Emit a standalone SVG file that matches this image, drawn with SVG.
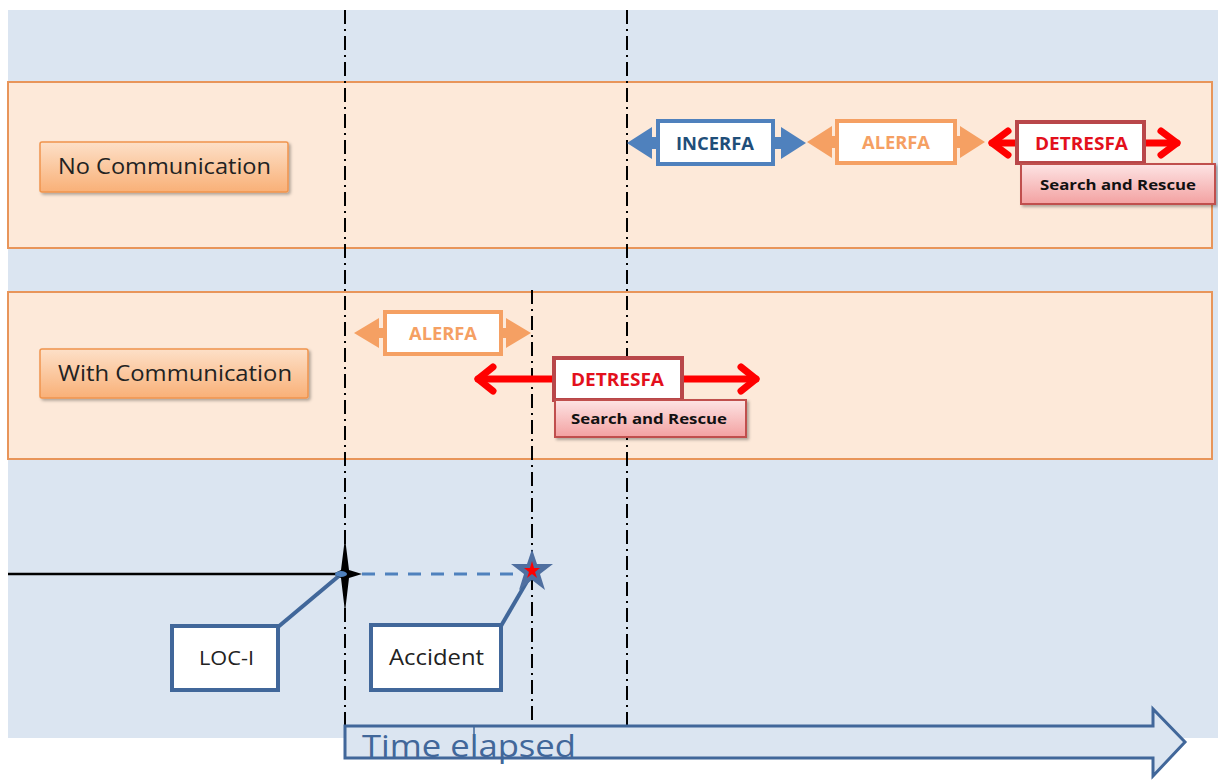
<svg xmlns="http://www.w3.org/2000/svg" width="1218" height="783" viewBox="0 0 1218 783">
<defs>
<linearGradient id="gOr" x1="0" y1="0" x2="0" y2="1"><stop offset="0" stop-color="#fde0c8"/><stop offset="1" stop-color="#f9b077"/></linearGradient>
<linearGradient id="gPk" x1="0" y1="0" x2="0" y2="1"><stop offset="0" stop-color="#fde4e4"/><stop offset="1" stop-color="#f3a1a1"/></linearGradient>
<filter id="sh" x="-10%" y="-10%" width="130%" height="140%"><feDropShadow dx="2" dy="2" stdDeviation="1.5" flood-color="#000" flood-opacity="0.3"/></filter>
<style>
.band{fill:#fde9d9;stroke:#e8955a;stroke-width:2}
.vd{stroke:#000;stroke-width:2;stroke-dasharray:14 5 2 5;fill:none}
.lbl{fill:url(#gOr);stroke:#f0944d;stroke-width:1.5;filter:url(#sh)}
.sar{fill:url(#gPk);stroke:#c0504d;stroke-width:2;filter:url(#sh)}
.t{font-family:"Open Sans","Liberation Sans",sans-serif}
.b{font-weight:bold}
.callout{fill:#fff;stroke:#41679a;stroke-width:4}
</style>
</defs>
<rect x="0" y="0" width="1218" height="783" fill="#fff"/>
<rect x="8" y="10" width="1210" height="728" fill="#dbe5f1"/>
<rect class="band" x="8" y="82" width="1204" height="166"/>
<rect class="band" x="8" y="292" width="1204" height="167"/>

<g id="guides">
<line class="vd" x1="345" y1="10" x2="345" y2="726"/>
<line class="vd" x1="627" y1="10" x2="627" y2="726"/>
<line class="vd" x1="532" y1="290" x2="532" y2="724"/>
</g>

<g id="no-comm"><rect class="lbl" x="40" y="142" width="248" height="50" rx="2"/><text class="t" x="58" y="174" font-size="21" fill="#222" textLength="213" lengthAdjust="spacingAndGlyphs">No Communication</text></g>
<g id="with-comm"><rect class="lbl" x="40" y="349" width="268" height="49" rx="2"/><text class="t" x="58" y="381" font-size="21" fill="#222" textLength="234" lengthAdjust="spacingAndGlyphs">With Communication</text></g>

<g id="connectors">
<polygon points="627,143 652,127 652,137 781,137 781,127 806,143 781,159 781,149 652,149 652,159" fill="#4f81bd"/>
<polygon points="807,142 832,126 832,136 960,136 960,126 985,142 960,158 960,148 832,148 832,158" fill="#f5a063"/>
<g stroke="#ff0000" stroke-width="7" fill="none" stroke-linecap="round" stroke-linejoin="round">
<line x1="992" y1="143" x2="1177" y2="143"/>
<polyline points="1008,131 992,143 1008,155"/>
<polyline points="1161,131 1177,143 1161,155"/>
<line x1="478" y1="379" x2="756" y2="379"/>
<polyline points="493,367 478,379 493,391"/>
<polyline points="741,367 756,379 741,391"/>
</g>
<polygon points="354,333 379,318 379,328 506,328 506,318 531,333 506,348 506,338 379,338 379,348" fill="#f5a063"/>
<line x1="8" y1="574" x2="340" y2="574" stroke="#000" stroke-width="2.5"/>
<line x1="362" y1="574" x2="520" y2="574" stroke="#4f81bd" stroke-width="3" stroke-dasharray="13 10"/>
<line x1="278" y1="627" x2="340" y2="575" stroke="#41679a" stroke-width="4"/>
<line x1="501" y1="626" x2="529" y2="578" stroke="#41679a" stroke-width="4"/>
</g>

<g id="incerfa"><rect x="658" y="121" width="115" height="43" fill="#fff" stroke="#4f81bd" stroke-width="4"/><text class="t b" x="676" y="150" font-size="18" fill="#1f4e79" textLength="78" lengthAdjust="spacingAndGlyphs">INCERFA</text></g>
<g id="alerfa-top"><rect x="837" y="121" width="118" height="42" fill="#fff" stroke="#f5a063" stroke-width="4"/><text class="t b" x="862" y="149" font-size="18" fill="#f5a063" textLength="68" lengthAdjust="spacingAndGlyphs">ALERFA</text></g>
<g id="detresfa-top"><rect x="1017" y="122" width="127" height="41" fill="#fff" stroke="#b9474a" stroke-width="4"/><text class="t b" x="1035" y="150" font-size="18" fill="#e3101c" textLength="93" lengthAdjust="spacingAndGlyphs">DETRESFA</text></g>
<g id="sar-top"><rect class="sar" x="1021" y="164" width="194" height="40"/><text class="t b" x="1040" y="190" font-size="15" fill="#111" textLength="156" lengthAdjust="spacingAndGlyphs">Search and Rescue</text></g>

<g id="alerfa-bottom"><rect x="385" y="312" width="116" height="42" fill="#fff" stroke="#f5a063" stroke-width="4"/><text class="t b" x="409" y="340" font-size="18" fill="#f5a063" textLength="68" lengthAdjust="spacingAndGlyphs">ALERFA</text></g>
<g id="detresfa-bottom"><rect x="554" y="358" width="128" height="42" fill="#fff" stroke="#b9474a" stroke-width="4"/><text class="t b" x="571" y="386" font-size="18" fill="#e3101c" textLength="93" lengthAdjust="spacingAndGlyphs">DETRESFA</text></g>
<g id="sar-bottom"><rect class="sar" x="555" y="400" width="191" height="37"/><text class="t b" x="571" y="424" font-size="15" fill="#111" textLength="156" lengthAdjust="spacingAndGlyphs">Search and Rescue</text></g>

<g id="loc-i">
<polygon points="345,538 349,570 362,574 349,578 345,612 341,578 333,574 341,570" fill="#000"/>
<ellipse cx="341" cy="574" rx="6" ry="3" fill="#4f81bd"/>
<rect class="callout" x="172" y="626" width="106" height="64"/>
<text class="t" x="199" y="665" font-size="20" fill="#222" textLength="55" lengthAdjust="spacingAndGlyphs">LOC-I</text>
</g>
<g id="accident">
<polygon points="532,549 537,564 553,564 540,574 545,590 532,580 519,590 524,574 511,564 527,564" fill="#4f6fa0"/>
<polygon points="532,561 534,568 540,568 535,572 537,578 532,574 527,578 529,572 524,568 530,568" fill="#ff0000"/>
<rect class="callout" x="371" y="625" width="130" height="65"/>
<text class="t" x="389" y="665" font-size="21" fill="#222" textLength="95" lengthAdjust="spacingAndGlyphs">Accident</text>
</g>

<g id="time-arrow">
<polygon points="345,726 1153,726 1153,709 1185,742 1153,776 1153,758 345,758" fill="#dbe5f1" stroke="#41679a" stroke-width="3"/>
<line x1="474" y1="727" x2="474" y2="757" stroke="#41679a" stroke-width="1.5"/>
<text class="t" x="362" y="757" font-size="31" fill="#41679a" textLength="214" lengthAdjust="spacingAndGlyphs">Time elapsed</text>
</g>
</svg>
